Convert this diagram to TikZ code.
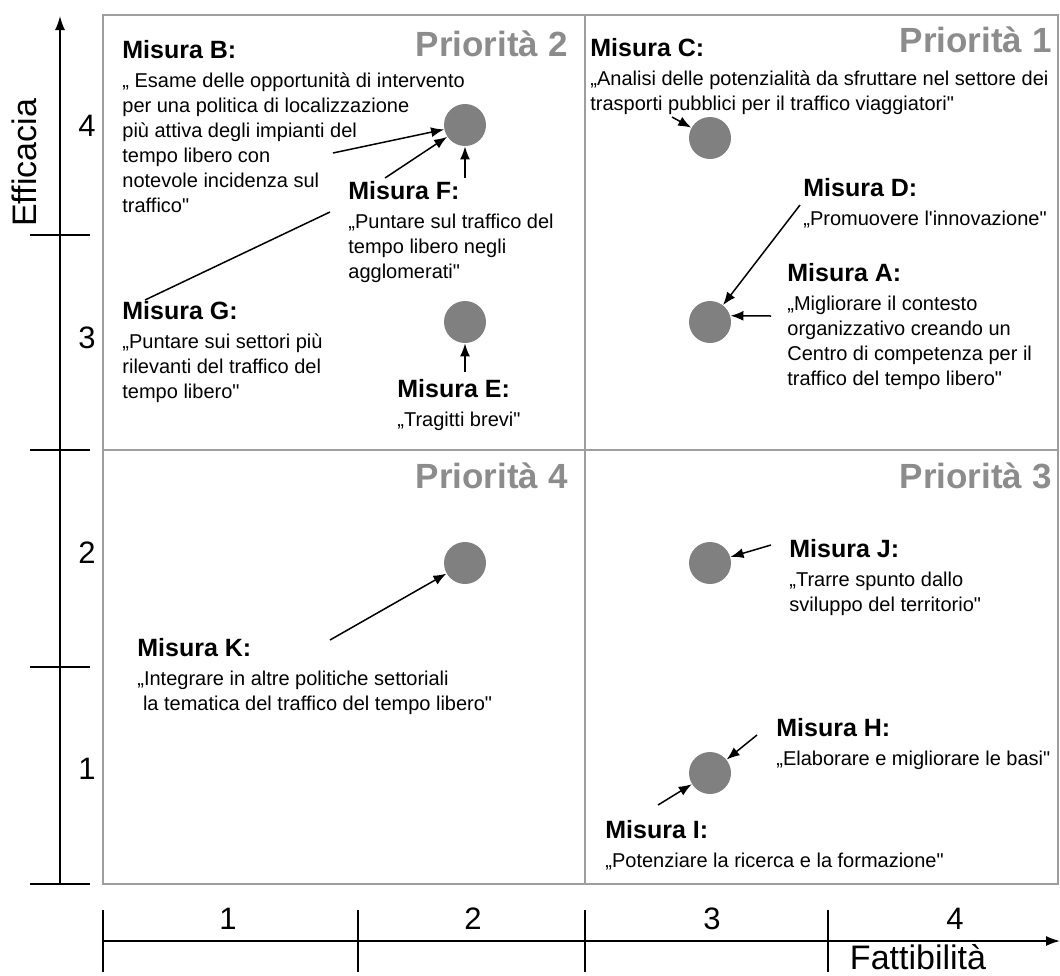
\documentclass[tikz,border=0pt]{standalone}
\usepackage{fontspec}
\setmainfont{Liberation Sans}[Ligatures=TeXOff]
\usetikzlibrary{arrows.meta}
\definecolor{boxgray}{gray}{0.62}
\definecolor{dotgray}{gray}{0.5}
\definecolor{prigray}{gray}{0.55}
\tikzset{
  dot/.style={circle,fill=dotgray,minimum size=21pt,inner sep=0pt},
  misura/.style={anchor=north west,align=left,inner sep=0pt,font=\fontsize{10}{12.5}\selectfont},
  prio/.style={anchor=base east,inner sep=0pt,text=prigray,font=\fontsize{17.5}{17.5}\selectfont\bfseries},
  freccia/.style={-{Latex[length=6.5pt,width=5pt]},line width=0.75pt},
  numero/.style={font=\fontsize{15.5}{15.5}\selectfont}
}
\newcommand{\titolo}[1]{{\fontsize{12.5}{14}\selectfont\bfseries #1}\\[2pt]}
\begin{document}
\begin{tikzpicture}[x=0.5pt,y=-0.5pt]
\useasboundingbox (0,0) rectangle (1060,975);
%quadranti
\draw[boxgray,line width=1pt] (103,15) rectangle (1058,884);
\draw[boxgray,line width=1pt] (585,15)--(585,884);
\draw[boxgray,line width=1pt] (103,450)--(1058,450);
\node[prio] (p2) at (568,56) {Priorità 2};
\node[prio] (p1) at (1052,52) {Priorità 1};
\node[prio] (p4) at (568,488) {Priorità 4};
\node[prio] (p3) at (1052,488) {Priorità 3};
%assi
\draw[-{Latex[length=7pt,width=5pt]},line width=0.75pt] (60,884)--(60,16);
\foreach \y in {235,450,667,884}
\draw[line width=0.75pt] (30,\y)--(90,\y);
\foreach \y/\v in {126/4,338/3,553/2,769/1}
\node[numero] (y\v) at (87,\y) {\v};
\node[rotate=90,font=\fontsize{17}{17}\selectfont] (eff) at (24,163) {Efficacia};
\draw[-{Latex[length=7pt,width=5pt]},line width=0.75pt] (103,941)--(1060,941);
\foreach \x in {103,358,585,828}
\draw[line width=0.75pt] (\x,910)--(\x,972);
\foreach \x/\v in {228/1,473/2,712/3,955/4}
\node[numero] (x\v) at (\x,919) {\v};
\node[anchor=base,font=\fontsize{17}{17}\selectfont] (fat) at (918,969) {Fattibilità};
%misure
\node[dot] (cB) at (465,125) {};
\node[dot] (cE) at (465,322) {};
\node[dot] (cC) at (710,138) {};
\node[dot] (cA) at (710,322) {};
\node[dot] (cK) at (465,563) {};
\node[dot] (cJ) at (710,563) {};
\node[dot] (cHI) at (710,773) {};
\node[misura] (mB) at (122,40) {\titolo{Misura B:}„ Esame delle opportunità di intervento\\per una politica di localizzazione\\più attiva degli impianti del\\tempo libero con\\notevole incidenza sul\\traffico"};
\node[misura] (mF) at (348,181) {\titolo{Misura F:}„Puntare sul traffico del\\tempo libero negli\\agglomerati"};
\node[misura] (mG) at (122,301) {\titolo{Misura G:}„Puntare sui settori più\\rilevanti del traffico del\\tempo libero"};
\node[misura] (mE) at (397,379) {\titolo{Misura E:}„Tragitti brevi"};
\node[misura] (mC) at (590,38) {\titolo{Misura C:}„Analisi delle potenzialità da sfruttare nel settore dei\\trasporti pubblici per il traffico viaggiatori"};
\node[misura] (mD) at (803,178) {\titolo{Misura D:}„Promuovere l'innovazione"};
\node[misura] (mA) at (787,263) {\titolo{Misura A:}„Migliorare il contesto\\organizzativo creando un\\Centro di competenza per il\\traffico del tempo libero"};
\node[misura] (mK) at (137,638) {\titolo{Misura K:}„Integrare in altre politiche settoriali\\\hspace*{0.28em}la tematica del traffico del tempo libero"};
\node[misura] (mJ) at (789,539) {\titolo{Misura J:}„Trarre spunto dallo\\sviluppo del territorio"};
\node[misura] (mH) at (776,718) {\titolo{Misura H:}„Elaborare e migliorare le basi"};
\node[misura] (mI) at (605,820) {\titolo{Misura I:}„Potenziare la ricerca e la formazione"};
%frecce
\coordinate (tB) at (333,153);
\coordinate (tF) at (385,178);
\coordinate (tF2) at (465,178);
\coordinate (gA) at (145,300);
\coordinate (gB) at (330,212);
\coordinate (tE) at (465,372);
\coordinate (tC) at (672,117);
\coordinate (tD) at (800,205);
\coordinate (tA) at (771,316);
\coordinate (tK) at (330,640);
\coordinate (tJ) at (771,545);
\coordinate (tH) at (757,735);
\coordinate (tI) at (658,805);
\draw[freccia] (tB)--(cB);
\draw[freccia] (tF)--(cB);
\draw[freccia] (tF2)--(cB);
\draw[line width=0.75pt] (gA)--(gB);
\draw[freccia] (tE)--(cE);
\draw[freccia] (tC)--(cC);
\draw[freccia] (tD)--(cA);
\draw[freccia] (tA)--(cA.17);
\draw[freccia] (tK)--(cK);
\draw[freccia] (tJ)--(cJ);
\draw[freccia] (tH)--(cHI);
\draw[freccia] (tI)--(cHI);
\end{tikzpicture}
\end{document}
